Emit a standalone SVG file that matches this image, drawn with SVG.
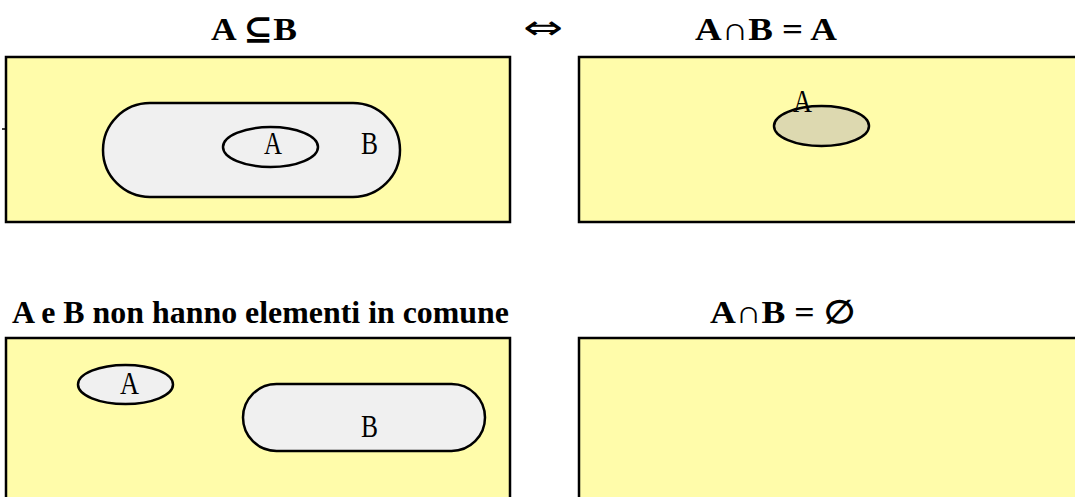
<svg xmlns="http://www.w3.org/2000/svg" width="1075" height="497" viewBox="0 0 1075 497">
  <style>
    .panel { fill: #fffcaa; stroke: #000; stroke-width: 2.5; }
    .set { fill: #f0f0f0; stroke: #000; stroke-width: 2.5; }
    .inter { fill: #ddd9b0; stroke: #000; stroke-width: 2.5; }
    .title { font-family: "Liberation Serif", "DejaVu Serif", serif; font-weight: bold; font-size: 32px; fill: #000; }
    .lbl { font-family: "Liberation Serif", serif; font-size: 31px; fill: #000; }
  </style>
  <rect width="1075" height="497" fill="#fff"/>

  <!-- titles -->
  <g id="titles">
    <text class="title" x="211" y="40" textLength="86" lengthAdjust="spacingAndGlyphs">A ⊆B</text>
    <text x="543" y="39" text-anchor="middle" font-family="DejaVu Sans, sans-serif" font-size="34" textLength="40" lengthAdjust="spacingAndGlyphs">⇔</text>
    <text class="title" x="695" y="40" textLength="142" lengthAdjust="spacingAndGlyphs">A∩B = A</text>
    <text class="title" x="12" y="323" textLength="497" lengthAdjust="spacingAndGlyphs">A e B non hanno elementi in comune</text>
    <text class="title" x="710" y="323" textLength="145" lengthAdjust="spacingAndGlyphs">A∩B = ∅</text>
  </g>

  <!-- A subset of B -->
  <g id="subset">
    <rect class="panel" x="6" y="57" width="504" height="165"/>
    <line x1="2" y1="129" x2="6" y2="129" stroke="#000" stroke-width="1.5"/>
    <rect class="set" x="103" y="103" width="297" height="94" rx="47" ry="47"/>
    <ellipse class="set" cx="270.5" cy="147" rx="47.5" ry="20"/>
    <text class="lbl" x="264" y="154" textLength="18" lengthAdjust="spacingAndGlyphs">A</text>
    <text class="lbl" x="361" y="154" textLength="17" lengthAdjust="spacingAndGlyphs">B</text>
  </g>

  <!-- intersection equals A -->
  <g id="intersection-a">
    <rect class="panel" x="579" y="57" width="500" height="165"/>
    <ellipse class="inter" cx="821.5" cy="126" rx="47.5" ry="20"/>
    <text class="lbl" x="793" y="112" textLength="19" lengthAdjust="spacingAndGlyphs">A</text>
  </g>

  <!-- disjoint sets -->
  <g id="disjoint">
    <rect class="panel" x="6" y="338" width="504" height="170"/>
    <ellipse class="set" cx="125.5" cy="384.5" rx="47.5" ry="19.5"/>
    <text class="lbl" x="120" y="394" textLength="19" lengthAdjust="spacingAndGlyphs">A</text>
    <rect class="set" x="243" y="384" width="242" height="67" rx="33.5" ry="33.5"/>
    <text class="lbl" x="361" y="437" textLength="17" lengthAdjust="spacingAndGlyphs">B</text>
  </g>

  <!-- empty intersection -->
  <g id="intersection-empty">
    <rect class="panel" x="579" y="338" width="500" height="170"/>
  </g>

  <g id="connectors"/>
</svg>
